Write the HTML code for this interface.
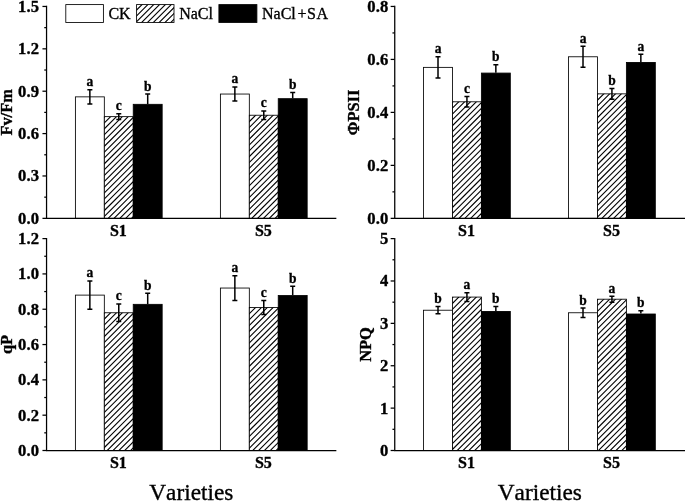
<!DOCTYPE html>
<html><head><meta charset="utf-8"><title>chart</title>
<style>
html,body{margin:0;padding:0;background:#fff;}
body{width:685px;height:501px;overflow:hidden;font-family:"Liberation Serif",serif;}
svg{display:block;font-family:"Liberation Serif",serif;}
text{fill:#000;stroke:#000;stroke-width:0.35px;}
</style></head>
<body>
<svg width="685" height="501" viewBox="0 0 685 501">
<defs>
<pattern id="h" patternUnits="userSpaceOnUse" width="5.84" height="5.84" x="2.1" y="0">
<path d="M-1 6.84L6.84 -1M-1 1L1 -1M4.84 6.84L6.84 4.84" stroke="#000" stroke-width="1.0" fill="none"/>
</pattern>
<filter id="b" x="0" y="0" width="685" height="501" filterUnits="userSpaceOnUse"><feGaussianBlur stdDeviation="0.45"/></filter>
</defs>
<rect width="685" height="501" fill="#fff"/>
<g filter="url(#b)">
<rect width="685" height="501" fill="#fff"/>
<rect x="75.40" y="96.86" width="28.92" height="121.49" fill="#fff" stroke="#000" stroke-width="0.85"/>
<path d="M89.86 89.80V103.92M87.36 89.80h5M87.36 103.92h5" stroke="#000" stroke-width="1.5" fill="none"/>
<text transform="translate(89.86 86.30) scale(0.9 1)" font-size="15" font-weight="bold" text-anchor="middle">a</text>
<rect x="104.32" y="116.64" width="28.92" height="101.71" fill="#fff"/>
<clipPath id="c1"><rect x="104.32" y="116.64" width="28.92" height="101.71"/></clipPath><path clip-path="url(#c1)" d="M103.32 112.26L134.24 81.34M103.32 118.10L134.24 87.18M103.32 123.94L134.24 93.02M103.32 129.78L134.24 98.86M103.32 135.62L134.24 104.70M103.32 141.46L134.24 110.54M103.32 147.30L134.24 116.38M103.32 153.14L134.24 122.22M103.32 158.98L134.24 128.06M103.32 164.82L134.24 133.90M103.32 170.66L134.24 139.74M103.32 176.50L134.24 145.58M103.32 182.34L134.24 151.42M103.32 188.18L134.24 157.26M103.32 194.02L134.24 163.10M103.32 199.86L134.24 168.94M103.32 205.70L134.24 174.78M103.32 211.54L134.24 180.62M103.32 217.38L134.24 186.46M103.32 223.22L134.24 192.30M103.32 229.06L134.24 198.14M103.32 234.90L134.24 203.98M103.32 240.74L134.24 209.82M103.32 246.58L134.24 215.66M103.32 252.42L134.24 221.50" stroke="#000" stroke-width="1.1" fill="none"/>
<rect x="104.32" y="116.64" width="28.92" height="101.71" fill="none" stroke="#000" stroke-width="0.85"/>
<path d="M118.78 113.81V119.46M116.28 113.81h5M116.28 119.46h5" stroke="#000" stroke-width="1.5" fill="none"/>
<text transform="translate(118.78 110.31) scale(0.9 1)" font-size="15" font-weight="bold" text-anchor="middle">c</text>
<rect x="133.24" y="104.32" width="28.92" height="114.03" fill="#000" stroke="#000" stroke-width="0.85"/>
<path d="M147.70 94.04V103.92M145.20 94.04h5" stroke="#000" stroke-width="1.5" fill="none"/>
<text transform="translate(147.70 90.54) scale(0.9 1)" font-size="15" font-weight="bold" text-anchor="middle">b</text>
<rect x="220.40" y="94.04" width="28.92" height="124.31" fill="#fff" stroke="#000" stroke-width="0.85"/>
<path d="M234.86 86.97V101.10M232.36 86.97h5M232.36 101.10h5" stroke="#000" stroke-width="1.5" fill="none"/>
<text transform="translate(234.86 83.47) scale(0.9 1)" font-size="15" font-weight="bold" text-anchor="middle">a</text>
<rect x="249.32" y="115.23" width="28.92" height="103.12" fill="#fff"/>
<clipPath id="c2"><rect x="249.32" y="115.23" width="28.92" height="103.12"/></clipPath><path clip-path="url(#c2)" d="M248.32 110.85L279.24 79.93M248.32 116.69L279.24 85.77M248.32 122.53L279.24 91.61M248.32 128.37L279.24 97.45M248.32 134.21L279.24 103.29M248.32 140.05L279.24 109.13M248.32 145.89L279.24 114.97M248.32 151.73L279.24 120.81M248.32 157.57L279.24 126.65M248.32 163.41L279.24 132.49M248.32 169.25L279.24 138.33M248.32 175.09L279.24 144.17M248.32 180.93L279.24 150.01M248.32 186.77L279.24 155.85M248.32 192.61L279.24 161.69M248.32 198.45L279.24 167.53M248.32 204.29L279.24 173.37M248.32 210.13L279.24 179.21M248.32 215.97L279.24 185.05M248.32 221.81L279.24 190.89M248.32 227.65L279.24 196.73M248.32 233.49L279.24 202.57M248.32 239.33L279.24 208.41M248.32 245.17L279.24 214.25M248.32 251.01L279.24 220.09" stroke="#000" stroke-width="1.1" fill="none"/>
<rect x="249.32" y="115.23" width="28.92" height="103.12" fill="none" stroke="#000" stroke-width="0.85"/>
<path d="M263.78 110.99V119.46M261.28 110.99h5M261.28 119.46h5" stroke="#000" stroke-width="1.5" fill="none"/>
<text transform="translate(263.78 107.49) scale(0.9 1)" font-size="15" font-weight="bold" text-anchor="middle">c</text>
<rect x="278.24" y="98.67" width="28.92" height="119.68" fill="#000" stroke="#000" stroke-width="0.85"/>
<path d="M292.70 92.62V98.27M290.20 92.62h5" stroke="#000" stroke-width="1.5" fill="none"/>
<text transform="translate(292.70 89.12) scale(0.9 1)" font-size="15" font-weight="bold" text-anchor="middle">b</text>
<path d="M46.55 5.83V218.97M45.93 218.35H336.35" stroke="#000" stroke-width="1.25" fill="none"/>
<path d="M46.55 218.35h-4.1" stroke="#000" stroke-width="1.25"/>
<text x="39.30" y="223.75" font-size="16.6" font-weight="bold" text-anchor="end" letter-spacing="0.2">0.0</text>
<path d="M46.55 197.16h-2.3" stroke="#000" stroke-width="1.25"/>
<path d="M46.55 175.97h-4.1" stroke="#000" stroke-width="1.25"/>
<text x="39.30" y="181.37" font-size="16.6" font-weight="bold" text-anchor="end" letter-spacing="0.2">0.3</text>
<path d="M46.55 154.78h-2.3" stroke="#000" stroke-width="1.25"/>
<path d="M46.55 133.59h-4.1" stroke="#000" stroke-width="1.25"/>
<text x="39.30" y="138.99" font-size="16.6" font-weight="bold" text-anchor="end" letter-spacing="0.2">0.6</text>
<path d="M46.55 112.40h-2.3" stroke="#000" stroke-width="1.25"/>
<path d="M46.55 91.21h-4.1" stroke="#000" stroke-width="1.25"/>
<text x="39.30" y="96.61" font-size="16.6" font-weight="bold" text-anchor="end" letter-spacing="0.2">0.9</text>
<path d="M46.55 70.02h-2.3" stroke="#000" stroke-width="1.25"/>
<path d="M46.55 48.83h-4.1" stroke="#000" stroke-width="1.25"/>
<text x="39.30" y="54.23" font-size="16.6" font-weight="bold" text-anchor="end" letter-spacing="0.2">1.2</text>
<path d="M46.55 27.64h-2.3" stroke="#000" stroke-width="1.25"/>
<path d="M46.55 6.45h-4.1" stroke="#000" stroke-width="1.25"/>
<text x="39.30" y="11.85" font-size="16.6" font-weight="bold" text-anchor="end" letter-spacing="0.2">1.5</text>
<text transform="translate(12.20 112.40) rotate(-90)" font-size="16.4" font-weight="bold" text-anchor="middle">Fv/Fm</text>
<text x="118.40" y="235.95" font-size="16" font-weight="bold" text-anchor="middle">S1</text>
<text x="263.40" y="235.95" font-size="16" font-weight="bold" text-anchor="middle">S5</text>
<rect x="423.55" y="67.37" width="28.92" height="150.98" fill="#fff" stroke="#000" stroke-width="0.85"/>
<path d="M438.01 56.78V77.97M435.51 56.78h5M435.51 77.97h5" stroke="#000" stroke-width="1.5" fill="none"/>
<text transform="translate(438.01 53.28) scale(0.9 1)" font-size="15" font-weight="bold" text-anchor="middle">a</text>
<rect x="452.47" y="101.80" width="28.92" height="116.55" fill="#fff"/>
<clipPath id="c3"><rect x="452.47" y="101.80" width="28.92" height="116.55"/></clipPath><path clip-path="url(#c3)" d="M451.47 97.42L482.39 66.50M451.47 103.26L482.39 72.34M451.47 109.11L482.39 78.19M451.47 114.95L482.39 84.03M451.47 120.79L482.39 89.87M451.47 126.63L482.39 95.71M451.47 132.47L482.39 101.55M451.47 138.31L482.39 107.39M451.47 144.15L482.39 113.23M451.47 149.99L482.39 119.07M451.47 155.83L482.39 124.91M451.47 161.67L482.39 130.75M451.47 167.51L482.39 136.59M451.47 173.35L482.39 142.43M451.47 179.19L482.39 148.27M451.47 185.03L482.39 154.11M451.47 190.87L482.39 159.95M451.47 196.71L482.39 165.79M451.47 202.55L482.39 171.63M451.47 208.39L482.39 177.47M451.47 214.23L482.39 183.31M451.47 220.07L482.39 189.15M451.47 225.91L482.39 194.99M451.47 231.75L482.39 200.83M451.47 237.59L482.39 206.67M451.47 243.43L482.39 212.51M451.47 249.27L482.39 218.35" stroke="#000" stroke-width="1.1" fill="none"/>
<rect x="452.47" y="101.80" width="28.92" height="116.55" fill="none" stroke="#000" stroke-width="0.85"/>
<path d="M466.93 96.51V107.10M464.43 96.51h5M464.43 107.10h5" stroke="#000" stroke-width="1.5" fill="none"/>
<text transform="translate(466.93 93.01) scale(0.9 1)" font-size="15" font-weight="bold" text-anchor="middle">c</text>
<rect x="481.39" y="73.07" width="28.92" height="145.28" fill="#000" stroke="#000" stroke-width="0.85"/>
<path d="M495.85 64.72V72.67M493.35 64.72h5" stroke="#000" stroke-width="1.5" fill="none"/>
<text transform="translate(495.85 61.22) scale(0.9 1)" font-size="15" font-weight="bold" text-anchor="middle">b</text>
<rect x="568.55" y="56.78" width="28.92" height="161.57" fill="#fff" stroke="#000" stroke-width="0.85"/>
<path d="M583.01 46.18V67.37M580.51 46.18h5M580.51 67.37h5" stroke="#000" stroke-width="1.5" fill="none"/>
<text transform="translate(583.01 42.68) scale(0.9 1)" font-size="15" font-weight="bold" text-anchor="middle">a</text>
<rect x="597.47" y="93.86" width="28.92" height="124.49" fill="#fff"/>
<clipPath id="c4"><rect x="597.47" y="93.86" width="28.92" height="124.49"/></clipPath><path clip-path="url(#c4)" d="M596.47 89.48L627.39 58.56M596.47 95.32L627.39 64.40M596.47 101.16L627.39 70.24M596.47 107.00L627.39 76.08M596.47 112.84L627.39 81.92M596.47 118.68L627.39 87.76M596.47 124.52L627.39 93.60M596.47 130.36L627.39 99.44M596.47 136.20L627.39 105.28M596.47 142.04L627.39 111.12M596.47 147.88L627.39 116.96M596.47 153.72L627.39 122.80M596.47 159.56L627.39 128.64M596.47 165.40L627.39 134.48M596.47 171.24L627.39 140.32M596.47 177.08L627.39 146.16M596.47 182.92L627.39 152.00M596.47 188.76L627.39 157.84M596.47 194.60L627.39 163.68M596.47 200.44L627.39 169.52M596.47 206.28L627.39 175.36M596.47 212.12L627.39 181.20M596.47 217.96L627.39 187.04M596.47 223.80L627.39 192.88M596.47 229.64L627.39 198.72M596.47 235.48L627.39 204.56M596.47 241.32L627.39 210.40M596.47 247.16L627.39 216.24M596.47 253.00L627.39 222.08" stroke="#000" stroke-width="1.1" fill="none"/>
<rect x="597.47" y="93.86" width="28.92" height="124.49" fill="none" stroke="#000" stroke-width="0.85"/>
<path d="M611.93 88.56V99.16M609.43 88.56h5M609.43 99.16h5" stroke="#000" stroke-width="1.5" fill="none"/>
<text transform="translate(611.93 85.06) scale(0.9 1)" font-size="15" font-weight="bold" text-anchor="middle">b</text>
<rect x="626.39" y="62.47" width="28.92" height="155.88" fill="#000" stroke="#000" stroke-width="0.85"/>
<path d="M640.85 54.13V62.07M638.35 54.13h5" stroke="#000" stroke-width="1.5" fill="none"/>
<text transform="translate(640.85 50.63) scale(0.9 1)" font-size="15" font-weight="bold" text-anchor="middle">a</text>
<path d="M394.75 5.83V218.97M394.13 218.35H686.00" stroke="#000" stroke-width="1.25" fill="none"/>
<path d="M394.75 218.35h-4.1" stroke="#000" stroke-width="1.25"/>
<text x="388.50" y="223.75" font-size="16.6" font-weight="bold" text-anchor="end" letter-spacing="0.2">0.0</text>
<path d="M394.75 191.86h-2.3" stroke="#000" stroke-width="1.25"/>
<path d="M394.75 165.38h-4.1" stroke="#000" stroke-width="1.25"/>
<text x="388.50" y="170.78" font-size="16.6" font-weight="bold" text-anchor="end" letter-spacing="0.2">0.2</text>
<path d="M394.75 138.89h-2.3" stroke="#000" stroke-width="1.25"/>
<path d="M394.75 112.40h-4.1" stroke="#000" stroke-width="1.25"/>
<text x="388.50" y="117.80" font-size="16.6" font-weight="bold" text-anchor="end" letter-spacing="0.2">0.4</text>
<path d="M394.75 85.91h-2.3" stroke="#000" stroke-width="1.25"/>
<path d="M394.75 59.42h-4.1" stroke="#000" stroke-width="1.25"/>
<text x="388.50" y="64.82" font-size="16.6" font-weight="bold" text-anchor="end" letter-spacing="0.2">0.6</text>
<path d="M394.75 32.94h-2.3" stroke="#000" stroke-width="1.25"/>
<path d="M394.75 6.45h-4.1" stroke="#000" stroke-width="1.25"/>
<text x="388.50" y="11.85" font-size="16.6" font-weight="bold" text-anchor="end" letter-spacing="0.2">0.8</text>
<text transform="translate(359.10 112.40) rotate(-90)" font-size="16.4" font-weight="bold" text-anchor="middle">&#934;PSII</text>
<text x="466.55" y="235.95" font-size="16" font-weight="bold" text-anchor="middle">S1</text>
<text x="611.55" y="235.95" font-size="16" font-weight="bold" text-anchor="middle">S5</text>
<rect x="75.40" y="295.11" width="28.92" height="155.39" fill="#fff" stroke="#000" stroke-width="0.85"/>
<path d="M89.86 280.98V309.23M87.36 280.98h5M87.36 309.23h5" stroke="#000" stroke-width="1.5" fill="none"/>
<text transform="translate(89.86 277.48) scale(0.9 1)" font-size="15" font-weight="bold" text-anchor="middle">a</text>
<rect x="104.32" y="312.76" width="28.92" height="137.74" fill="#fff"/>
<clipPath id="c5"><rect x="104.32" y="312.76" width="28.92" height="137.74"/></clipPath><path clip-path="url(#c5)" d="M103.32 308.38L134.24 277.46M103.32 314.22L134.24 283.30M103.32 320.06L134.24 289.14M103.32 325.90L134.24 294.98M103.32 331.74L134.24 300.82M103.32 337.58L134.24 306.66M103.32 343.42L134.24 312.50M103.32 349.26L134.24 318.34M103.32 355.10L134.24 324.18M103.32 360.94L134.24 330.02M103.32 366.78L134.24 335.86M103.32 372.62L134.24 341.70M103.32 378.46L134.24 347.54M103.32 384.30L134.24 353.38M103.32 390.14L134.24 359.22M103.32 395.98L134.24 365.06M103.32 401.82L134.24 370.90M103.32 407.66L134.24 376.74M103.32 413.50L134.24 382.58M103.32 419.34L134.24 388.42M103.32 425.18L134.24 394.26M103.32 431.02L134.24 400.10M103.32 436.86L134.24 405.94M103.32 442.70L134.24 411.78M103.32 448.54L134.24 417.62M103.32 454.38L134.24 423.46M103.32 460.22L134.24 429.30M103.32 466.06L134.24 435.14M103.32 471.90L134.24 440.98M103.32 477.74L134.24 446.82M103.32 483.58L134.24 452.66" stroke="#000" stroke-width="1.1" fill="none"/>
<rect x="104.32" y="312.76" width="28.92" height="137.74" fill="none" stroke="#000" stroke-width="0.85"/>
<path d="M118.78 303.94V321.59M116.28 303.94h5M116.28 321.59h5" stroke="#000" stroke-width="1.5" fill="none"/>
<text transform="translate(118.78 300.44) scale(0.9 1)" font-size="15" font-weight="bold" text-anchor="middle">c</text>
<rect x="133.24" y="304.34" width="28.92" height="146.16" fill="#000" stroke="#000" stroke-width="0.85"/>
<path d="M147.70 293.34V303.94M145.20 293.34h5" stroke="#000" stroke-width="1.5" fill="none"/>
<text transform="translate(147.70 289.84) scale(0.9 1)" font-size="15" font-weight="bold" text-anchor="middle">b</text>
<rect x="220.40" y="288.04" width="28.92" height="162.46" fill="#fff" stroke="#000" stroke-width="0.85"/>
<path d="M234.86 275.68V300.40M232.36 275.68h5M232.36 300.40h5" stroke="#000" stroke-width="1.5" fill="none"/>
<text transform="translate(234.86 272.18) scale(0.9 1)" font-size="15" font-weight="bold" text-anchor="middle">a</text>
<rect x="249.32" y="307.47" width="28.92" height="143.03" fill="#fff"/>
<clipPath id="c6"><rect x="249.32" y="307.47" width="28.92" height="143.03"/></clipPath><path clip-path="url(#c6)" d="M248.32 303.09L279.24 272.17M248.32 308.93L279.24 278.01M248.32 314.77L279.24 283.85M248.32 320.61L279.24 289.69M248.32 326.45L279.24 295.53M248.32 332.29L279.24 301.37M248.32 338.13L279.24 307.21M248.32 343.97L279.24 313.05M248.32 349.81L279.24 318.89M248.32 355.65L279.24 324.73M248.32 361.49L279.24 330.57M248.32 367.33L279.24 336.41M248.32 373.17L279.24 342.25M248.32 379.01L279.24 348.09M248.32 384.85L279.24 353.93M248.32 390.69L279.24 359.77M248.32 396.53L279.24 365.61M248.32 402.37L279.24 371.45M248.32 408.21L279.24 377.29M248.32 414.05L279.24 383.13M248.32 419.89L279.24 388.97M248.32 425.73L279.24 394.81M248.32 431.57L279.24 400.65M248.32 437.41L279.24 406.49M248.32 443.25L279.24 412.33M248.32 449.09L279.24 418.17M248.32 454.93L279.24 424.01M248.32 460.77L279.24 429.85M248.32 466.61L279.24 435.69M248.32 472.45L279.24 441.53M248.32 478.29L279.24 447.37M248.32 484.13L279.24 453.21" stroke="#000" stroke-width="1.1" fill="none"/>
<rect x="249.32" y="307.47" width="28.92" height="143.03" fill="none" stroke="#000" stroke-width="0.85"/>
<path d="M263.78 300.40V314.53M261.28 300.40h5M261.28 314.53h5" stroke="#000" stroke-width="1.5" fill="none"/>
<text transform="translate(263.78 296.90) scale(0.9 1)" font-size="15" font-weight="bold" text-anchor="middle">c</text>
<rect x="278.24" y="295.51" width="28.92" height="154.99" fill="#000" stroke="#000" stroke-width="0.85"/>
<path d="M292.70 286.28V295.11M290.20 286.28h5" stroke="#000" stroke-width="1.5" fill="none"/>
<text transform="translate(292.70 282.78) scale(0.9 1)" font-size="15" font-weight="bold" text-anchor="middle">b</text>
<path d="M46.55 237.98V451.12M45.93 450.50H336.35" stroke="#000" stroke-width="1.25" fill="none"/>
<path d="M46.55 450.50h-4.1" stroke="#000" stroke-width="1.25"/>
<text x="39.30" y="455.90" font-size="16.6" font-weight="bold" text-anchor="end" letter-spacing="0.2">0.0</text>
<path d="M46.55 432.84h-2.3" stroke="#000" stroke-width="1.25"/>
<path d="M46.55 415.18h-4.1" stroke="#000" stroke-width="1.25"/>
<text x="39.30" y="420.58" font-size="16.6" font-weight="bold" text-anchor="end" letter-spacing="0.2">0.2</text>
<path d="M46.55 397.52h-2.3" stroke="#000" stroke-width="1.25"/>
<path d="M46.55 379.87h-4.1" stroke="#000" stroke-width="1.25"/>
<text x="39.30" y="385.27" font-size="16.6" font-weight="bold" text-anchor="end" letter-spacing="0.2">0.4</text>
<path d="M46.55 362.21h-2.3" stroke="#000" stroke-width="1.25"/>
<path d="M46.55 344.55h-4.1" stroke="#000" stroke-width="1.25"/>
<text x="39.30" y="349.95" font-size="16.6" font-weight="bold" text-anchor="end" letter-spacing="0.2">0.6</text>
<path d="M46.55 326.89h-2.3" stroke="#000" stroke-width="1.25"/>
<path d="M46.55 309.23h-4.1" stroke="#000" stroke-width="1.25"/>
<text x="39.30" y="314.63" font-size="16.6" font-weight="bold" text-anchor="end" letter-spacing="0.2">0.8</text>
<path d="M46.55 291.57h-2.3" stroke="#000" stroke-width="1.25"/>
<path d="M46.55 273.92h-4.1" stroke="#000" stroke-width="1.25"/>
<text x="39.30" y="279.32" font-size="16.6" font-weight="bold" text-anchor="end" letter-spacing="0.2">1.0</text>
<path d="M46.55 256.26h-2.3" stroke="#000" stroke-width="1.25"/>
<path d="M46.55 238.60h-4.1" stroke="#000" stroke-width="1.25"/>
<text x="39.30" y="244.00" font-size="16.6" font-weight="bold" text-anchor="end" letter-spacing="0.2">1.2</text>
<text transform="translate(12.40 344.55) rotate(-90)" font-size="16.4" font-weight="bold" text-anchor="middle">qP</text>
<text x="118.40" y="468.10" font-size="16" font-weight="bold" text-anchor="middle">S1</text>
<text x="263.40" y="468.10" font-size="16" font-weight="bold" text-anchor="middle">S5</text>
<rect x="423.55" y="310.22" width="28.92" height="140.28" fill="#fff" stroke="#000" stroke-width="0.85"/>
<path d="M438.01 306.62V313.82M435.51 306.62h5M435.51 313.82h5" stroke="#000" stroke-width="1.5" fill="none"/>
<text transform="translate(438.01 303.12) scale(0.9 1)" font-size="15" font-weight="bold" text-anchor="middle">b</text>
<rect x="452.47" y="297.08" width="28.92" height="153.42" fill="#fff"/>
<clipPath id="c7"><rect x="452.47" y="297.08" width="28.92" height="153.42"/></clipPath><path clip-path="url(#c7)" d="M451.47 292.70L482.39 261.78M451.47 298.54L482.39 267.62M451.47 304.38L482.39 273.46M451.47 310.22L482.39 279.30M451.47 316.06L482.39 285.14M451.47 321.90L482.39 290.98M451.47 327.74L482.39 296.82M451.47 333.58L482.39 302.66M451.47 339.42L482.39 308.50M451.47 345.26L482.39 314.34M451.47 351.10L482.39 320.18M451.47 356.94L482.39 326.02M451.47 362.78L482.39 331.86M451.47 368.62L482.39 337.70M451.47 374.46L482.39 343.54M451.47 380.30L482.39 349.38M451.47 386.14L482.39 355.22M451.47 391.98L482.39 361.06M451.47 397.82L482.39 366.90M451.47 403.66L482.39 372.74M451.47 409.50L482.39 378.58M451.47 415.34L482.39 384.42M451.47 421.18L482.39 390.26M451.47 427.02L482.39 396.10M451.47 432.86L482.39 401.94M451.47 438.70L482.39 407.78M451.47 444.54L482.39 413.62M451.47 450.38L482.39 419.46M451.47 456.22L482.39 425.30M451.47 462.06L482.39 431.14M451.47 467.90L482.39 436.98M451.47 473.74L482.39 442.82M451.47 479.58L482.39 448.66M451.47 485.42L482.39 454.50" stroke="#000" stroke-width="1.1" fill="none"/>
<rect x="452.47" y="297.08" width="28.92" height="153.42" fill="none" stroke="#000" stroke-width="0.85"/>
<path d="M466.93 292.63V301.53M464.43 292.63h5M464.43 301.53h5" stroke="#000" stroke-width="1.5" fill="none"/>
<text transform="translate(466.93 289.13) scale(0.9 1)" font-size="15" font-weight="bold" text-anchor="middle">a</text>
<rect x="481.39" y="311.47" width="28.92" height="139.03" fill="#000" stroke="#000" stroke-width="0.85"/>
<path d="M495.85 306.41V311.07M493.35 306.41h5" stroke="#000" stroke-width="1.5" fill="none"/>
<text transform="translate(495.85 302.91) scale(0.9 1)" font-size="15" font-weight="bold" text-anchor="middle">b</text>
<rect x="568.55" y="312.76" width="28.92" height="137.74" fill="#fff" stroke="#000" stroke-width="0.85"/>
<path d="M583.01 308.10V317.43M580.51 308.10h5M580.51 317.43h5" stroke="#000" stroke-width="1.5" fill="none"/>
<text transform="translate(583.01 304.60) scale(0.9 1)" font-size="15" font-weight="bold" text-anchor="middle">b</text>
<rect x="597.47" y="299.20" width="28.92" height="151.30" fill="#fff"/>
<clipPath id="c8"><rect x="597.47" y="299.20" width="28.92" height="151.30"/></clipPath><path clip-path="url(#c8)" d="M596.47 294.82L627.39 263.90M596.47 300.66L627.39 269.74M596.47 306.50L627.39 275.58M596.47 312.34L627.39 281.42M596.47 318.18L627.39 287.26M596.47 324.02L627.39 293.10M596.47 329.86L627.39 298.94M596.47 335.70L627.39 304.78M596.47 341.54L627.39 310.62M596.47 347.38L627.39 316.46M596.47 353.22L627.39 322.30M596.47 359.06L627.39 328.14M596.47 364.90L627.39 333.98M596.47 370.74L627.39 339.82M596.47 376.58L627.39 345.66M596.47 382.42L627.39 351.50M596.47 388.26L627.39 357.34M596.47 394.10L627.39 363.18M596.47 399.94L627.39 369.02M596.47 405.78L627.39 374.86M596.47 411.62L627.39 380.70M596.47 417.46L627.39 386.54M596.47 423.30L627.39 392.38M596.47 429.14L627.39 398.22M596.47 434.98L627.39 404.06M596.47 440.82L627.39 409.90M596.47 446.66L627.39 415.74M596.47 452.50L627.39 421.58M596.47 458.34L627.39 427.42M596.47 464.18L627.39 433.26M596.47 470.02L627.39 439.10M596.47 475.86L627.39 444.94M596.47 481.70L627.39 450.78" stroke="#000" stroke-width="1.1" fill="none"/>
<rect x="597.47" y="299.20" width="28.92" height="151.30" fill="none" stroke="#000" stroke-width="0.85"/>
<path d="M611.93 296.24V302.17M609.43 296.24h5M609.43 302.17h5" stroke="#000" stroke-width="1.5" fill="none"/>
<text transform="translate(611.93 292.74) scale(0.9 1)" font-size="15" font-weight="bold" text-anchor="middle">a</text>
<rect x="626.39" y="314.01" width="28.92" height="136.49" fill="#000" stroke="#000" stroke-width="0.85"/>
<path d="M640.85 310.65V313.61M638.35 310.65h5" stroke="#000" stroke-width="1.5" fill="none"/>
<text transform="translate(640.85 307.15) scale(0.9 1)" font-size="15" font-weight="bold" text-anchor="middle">b</text>
<path d="M394.75 237.98V451.12M394.13 450.50H686.00" stroke="#000" stroke-width="1.25" fill="none"/>
<path d="M394.75 450.50h-4.1" stroke="#000" stroke-width="1.25"/>
<text x="388.50" y="455.90" font-size="16.6" font-weight="bold" text-anchor="end" letter-spacing="0.2">0</text>
<path d="M394.75 429.31h-2.3" stroke="#000" stroke-width="1.25"/>
<path d="M394.75 408.12h-4.1" stroke="#000" stroke-width="1.25"/>
<text x="388.50" y="413.52" font-size="16.6" font-weight="bold" text-anchor="end" letter-spacing="0.2">1</text>
<path d="M394.75 386.93h-2.3" stroke="#000" stroke-width="1.25"/>
<path d="M394.75 365.74h-4.1" stroke="#000" stroke-width="1.25"/>
<text x="388.50" y="371.14" font-size="16.6" font-weight="bold" text-anchor="end" letter-spacing="0.2">2</text>
<path d="M394.75 344.55h-2.3" stroke="#000" stroke-width="1.25"/>
<path d="M394.75 323.36h-4.1" stroke="#000" stroke-width="1.25"/>
<text x="388.50" y="328.76" font-size="16.6" font-weight="bold" text-anchor="end" letter-spacing="0.2">3</text>
<path d="M394.75 302.17h-2.3" stroke="#000" stroke-width="1.25"/>
<path d="M394.75 280.98h-4.1" stroke="#000" stroke-width="1.25"/>
<text x="388.50" y="286.38" font-size="16.6" font-weight="bold" text-anchor="end" letter-spacing="0.2">4</text>
<path d="M394.75 259.79h-2.3" stroke="#000" stroke-width="1.25"/>
<path d="M394.75 238.60h-4.1" stroke="#000" stroke-width="1.25"/>
<text x="388.50" y="244.00" font-size="16.6" font-weight="bold" text-anchor="end" letter-spacing="0.2">5</text>
<text transform="translate(371.00 344.55) rotate(-90)" font-size="16.4" font-weight="bold" text-anchor="middle">NPQ</text>
<text x="466.55" y="468.10" font-size="16" font-weight="bold" text-anchor="middle">S1</text>
<text x="611.55" y="468.10" font-size="16" font-weight="bold" text-anchor="middle">S5</text>

<rect x="65.8" y="4.6" width="37.6" height="17.9" fill="#fff" stroke="#000" stroke-width="0.85"/>
<text x="108.4" y="18.6" font-size="16">CK</text>
<rect x="136.6" y="4.6" width="37.4" height="17.9" fill="#fff"/>
<clipPath id="c9"><rect x="136.60" y="4.60" width="37.40" height="17.90"/></clipPath><path clip-path="url(#c9)" d="M135.60 5.16L175.00 -34.24M135.60 11.00L175.00 -28.40M135.60 16.84L175.00 -22.56M135.60 22.68L175.00 -16.72M135.60 28.52L175.00 -10.88M135.60 34.36L175.00 -5.04M135.60 40.20L175.00 0.80M135.60 46.04L175.00 6.64M135.60 51.88L175.00 12.48M135.60 57.72L175.00 18.32M135.60 63.56L175.00 24.16" stroke="#000" stroke-width="1.1" fill="none"/>
<rect x="136.6" y="4.6" width="37.4" height="17.9" fill="none" stroke="#000" stroke-width="0.85"/>
<text x="179.2" y="18.6" font-size="16">NaCl</text>
<rect x="218.9" y="4.6" width="38" height="17.9" fill="#000" stroke="#000" stroke-width="0.85"/>
<text x="262" y="18.6" font-size="16">NaCl<tspan dx="1.8">+</tspan><tspan dx="0.5">S</tspan><tspan dx="0.5">A</tspan></text>
<text x="191.3" y="500.0" font-size="23.3" style="font-kerning:none" text-anchor="middle">Varieties</text>
<text x="539.8" y="500.0" font-size="23.3" style="font-kerning:none" text-anchor="middle">Varieties</text>

</g>
</svg>
</body></html>
